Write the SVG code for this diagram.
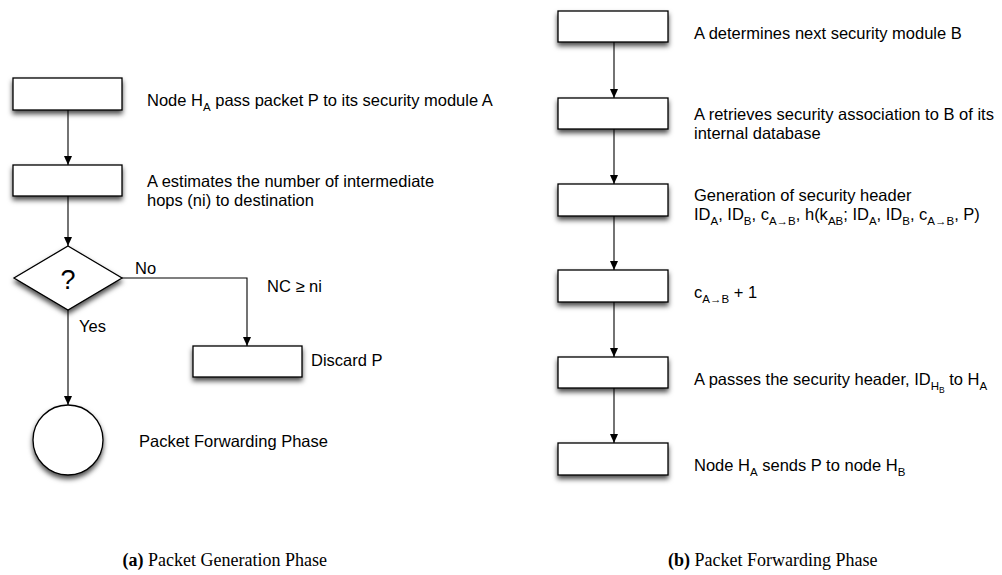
<svg xmlns="http://www.w3.org/2000/svg" width="1002" height="575" viewBox="0 0 1002 575">
<defs>
<filter id="sh" x="-20%" y="-30%" width="140%" height="180%">
<feDropShadow dx="0" dy="3.5" stdDeviation="2.5" flood-color="#000" flood-opacity="0.7"/>
</filter>
<marker id="ah" markerWidth="10" markerHeight="10" refX="9" refY="4" orient="auto" markerUnits="userSpaceOnUse">
<path d="M0,0 L9,4 L0,8 Z" fill="#000"/>
</marker>
<style>
.box{fill:#fff;stroke:#000;stroke-width:1.3;filter:url(#sh)}
.t{font-family:"Liberation Sans",Arial,sans-serif;font-size:16.5px;fill:#000}
.s{font-size:11.5px}
.ss{font-size:8.5px}
.cap{font-family:"Liberation Serif","Times New Roman",serif;font-size:18px;fill:#000}
.c{fill:none;stroke:#000;stroke-width:1.1;marker-end:url(#ah)}
</style>
</defs>
<rect width="1002" height="575" fill="#fff"/>

<g id="connectors">
<line class="c" x1="68" y1="110" x2="68" y2="165"/>
<line class="c" x1="68" y1="196" x2="68" y2="246"/>
<line class="c" x1="68" y1="310" x2="68" y2="405"/>
<polyline class="c" points="122,278 247,278 247,346"/>
<line class="c" x1="614" y1="42" x2="614" y2="98"/>
<line class="c" x1="614" y1="129" x2="614" y2="184"/>
<line class="c" x1="614" y1="216" x2="614" y2="270"/>
<line class="c" x1="614" y1="302" x2="614" y2="357"/>
<line class="c" x1="614" y1="388" x2="614" y2="443"/>
<text class="t" x="135" y="274">No</text>
<text class="t" x="267" y="292">NC ≥ ni</text>
<text class="t" x="79" y="332">Yes</text>
</g>

<g id="a1">
<rect class="box" x="13" y="78" width="109" height="32"/>
<text class="t" x="147" y="105.5">Node H<tspan class="s" dy="5">A</tspan><tspan dy="-5"> pass packet P to its security module A</tspan></text>
</g>
<g id="a2">
<rect class="box" x="13" y="165" width="109" height="31"/>
<text class="t" x="147" y="187">A estimates the number of intermediate</text>
<text class="t" x="147" y="206">hops (ni) to destination</text>
</g>
<g id="a3">
<polygon class="box" points="68,246 122,278 68,310 14,278"/>
<text class="t" x="68" y="289" text-anchor="middle" style="font-size:27px">?</text>
</g>
<g id="a4">
<rect class="box" x="193" y="346" width="109" height="31"/>
<text class="t" x="311" y="366">Discard P</text>
</g>
<g id="a5">
<circle class="box" cx="68" cy="440" r="35"/>
<text class="t" x="139" y="447">Packet Forwarding Phase</text>
</g>

<g id="b1">
<rect class="box" x="558" y="11" width="110" height="31"/>
<text class="t" x="694" y="39">A determines next security module B</text>
</g>
<g id="b2">
<rect class="box" x="558" y="98" width="110" height="31"/>
<text class="t" x="694" y="120">A retrieves security association to B of its</text>
<text class="t" x="694" y="139">internal database</text>
</g>
<g id="b3">
<rect class="box" x="558" y="184" width="110" height="32"/>
<text class="t" x="694" y="200.5">Generation of security header</text>
<text class="t" x="694" y="219.5">ID<tspan class="s" dy="5">A</tspan><tspan dy="-5">, ID</tspan><tspan class="s" dy="5">B</tspan><tspan dy="-5">, c</tspan><tspan class="s" dy="5">A→B</tspan><tspan dy="-5">, h(k</tspan><tspan class="s" dy="5">AB</tspan><tspan dy="-5">; ID</tspan><tspan class="s" dy="5">A</tspan><tspan dy="-5">, ID</tspan><tspan class="s" dy="5">B</tspan><tspan dy="-5">, c</tspan><tspan class="s" dy="5">A→B</tspan><tspan dy="-5">, P)</tspan></text>
</g>
<g id="b4">
<rect class="box" x="558" y="270" width="110" height="32"/>
<text class="t" x="694" y="298">c<tspan class="s" dy="5">A→B</tspan><tspan dy="-5"> + 1</tspan></text>
</g>
<g id="b5">
<rect class="box" x="558" y="357" width="110" height="31"/>
<text class="t" x="694" y="385">A passes the security header, ID<tspan class="s" dy="5">H</tspan><tspan class="ss" dy="3">B</tspan><tspan dy="-8"> to H</tspan><tspan class="s" dy="5">A</tspan></text>
</g>
<g id="b6">
<rect class="box" x="558" y="443" width="110" height="32"/>
<text class="t" x="694" y="471">Node H<tspan class="s" dy="5">A</tspan><tspan dy="-5"> sends P to node H</tspan><tspan class="s" dy="5">B</tspan></text>
</g>

<g id="captions">
<text class="cap" x="122.5" y="566"><tspan font-weight="bold">(a)</tspan> Packet Generation Phase</text>
<text class="cap" x="668" y="566"><tspan font-weight="bold">(b)</tspan> Packet Forwarding Phase</text>
</g>
</svg>
